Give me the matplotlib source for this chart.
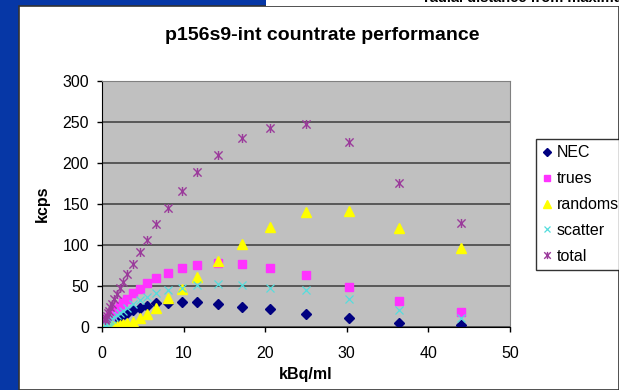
import matplotlib
matplotlib.use("Agg")
import matplotlib.pyplot as plt
from matplotlib.path import Path
from matplotlib.patches import Rectangle

plt.rcParams['font.family'] = ['Liberation Sans', 'DejaVu Sans']

# activity concentration (kBq/ml)
activity = [0.33, 0.40, 0.49, 0.59, 0.71, 0.86, 1.04, 1.25, 1.51, 1.82, 2.2,
            2.6, 3.1, 3.76, 4.66, 5.55, 6.65, 8.1, 9.8, 11.7, 14.2, 17.2,
            20.6, 25.0, 30.3, 36.4, 44.0]

# count rates (kcps)
nec = [2.1, 2.5, 3.1, 3.7, 4.4, 5.3, 6.4, 7.6, 9.0, 10.7, 12.6,
       14.6, 17.5, 20.7, 23.0, 25.6, 29.0, 29.3, 30.5, 30.0, 27.6, 24.8,
       21.5, 15.4, 10.6, 5.3, 2.4]
trues = [4.5, 5.3, 6.4, 7.7, 9.2, 11.0, 13.2, 15.6, 18.6, 22.0, 26.0,
         30.0, 34.5, 41.0, 46.3, 53.3, 59.8, 66.3, 72.0, 76.0, 77.6, 77.0,
         72.0, 64.0, 49.0, 32.0, 18.7]
randoms = [0.1, 0.12, 0.15, 0.2, 0.3, 0.4, 0.6, 0.8, 1.2, 1.7, 2.4,
           3.3, 4.6, 6.6, 11.4, 16.0, 23.6, 35.0, 46.0, 61.0, 80.5, 101.0,
           122.0, 140.6, 142.0, 121.0, 96.0]
scatter = [3.0, 3.5, 4.2, 5.0, 6.0, 7.2, 8.6, 10.2, 12.2, 14.4, 17.0,
           19.8, 23.0, 28.0, 33.0, 37.0, 41.0, 45.0, 48.0, 51.0, 52.0, 51.0,
           48.0, 45.0, 34.0, 20.7, 10.6]
total = [8.0, 9.5, 11.5, 13.8, 16.5, 20.0, 24.0, 28.5, 34.0, 40.5, 47.0,
         55.0, 65.0, 77.0, 91.0, 106.0, 126.0, 145.0, 166.0, 189.0, 210.0, 230.0,
         243.0, 248.0, 226.0, 176.0, 127.0]

xticks = [0, 10, 20, 30, 40, 50]
yticks = [0, 50, 100, 150, 200, 250, 300]

W, H = 619, 390

# Excel style asterisk: an x with a vertical bar
asterisk = Path([(-1, -1), (1, 1), (-1, 1), (1, -1), (0, -1.1), (0, 1.1)],
                [Path.MOVETO, Path.LINETO, Path.MOVETO, Path.LINETO,
                 Path.MOVETO, Path.LINETO])

fig = plt.figure(figsize=(W / 100, H / 100), dpi=100, facecolor='#0637A6')

# slide panels
fig.patches.append(Rectangle((19 / W, 0), 1 - 19 / W, (H - 6) / H,
                             transform=fig.transFigure, facecolor='white',
                             edgecolor='#333333', lw=1.2, zorder=-2))
fig.patches.append(Rectangle((266 / W, (H - 6) / H), 1, 6 / H,
                             transform=fig.transFigure, facecolor='white',
                             edgecolor='none', zorder=-2))
fig.text(424 / W, (H - 2) / H, "radial distance from maximum",
         fontsize=10.5, fontweight='bold', va='baseline', ha='left')

ax = fig.add_axes([102 / W, (H - 327) / H, 408 / W, 246 / H])
ax.set_zorder(2)
ax.set_facecolor('#C0C0C0')

ax.plot(activity, nec, 'D', color='#000080', markersize=5.2, label='NEC')
ax.plot(activity, trues, 's', color='#FF33FF', markersize=5.5, label='trues')
ax.plot(activity, randoms, '^', color='#FFFF00', markersize=6.5,
        label='randoms')
ax.plot(activity, scatter, 'x', color='#55DDDD', markersize=6,
        markeredgewidth=0.9, label='scatter')
ax.plot(activity, total, linestyle='none', marker=asterisk, color='#9B3B9B',
        markersize=6.5, markeredgewidth=1.0, label='total')

# Cosmetics
ax.set_xlim(0, 50)
ax.set_ylim(0, 300)
ax.set_xticks(xticks)
ax.set_yticks(yticks)
ax.yaxis.grid(True, color='#505050', lw=1.3)
ax.set_axisbelow(True)
ax.tick_params(direction='out', length=3.6, width=1, labelsize=11.5)
ax.tick_params(axis='y', pad=5.8)
ax.tick_params(axis='x', pad=10)
for side in ['left', 'bottom']:
    ax.spines[side].set_color('black')
for side in ['top', 'right']:
    ax.spines[side].set_color('#808080')

fig.text(322 / W, (H - 36) / H, "p156s9-int countrate performance",
         fontsize=14, fontweight='bold', ha='center', va='center')
fig.text(42 / W, (H - 204) / H, "kcps", fontsize=11.5, fontweight='bold',
         rotation=90, ha='center', va='center')
fig.text(306 / W, (H - 375) / H, "kBq/ml", fontsize=11.5, fontweight='bold',
         ha='center', va='center')

leg = fig.legend(loc='upper left', bbox_to_anchor=(536 / W, (H - 139) / H),
                 bbox_transform=fig.transFigure, fontsize=11.5,
                 frameon=True, fancybox=False, edgecolor='black',
                 handlelength=0.6, handletextpad=0.3, borderpad=0.4,
                 labelspacing=0.68, borderaxespad=0, markerscale=0.8)
leg.get_frame().set_linewidth(1.0)
leg.set_zorder(3)

fig.savefig('out.png', dpi=100, facecolor=fig.get_facecolor())
